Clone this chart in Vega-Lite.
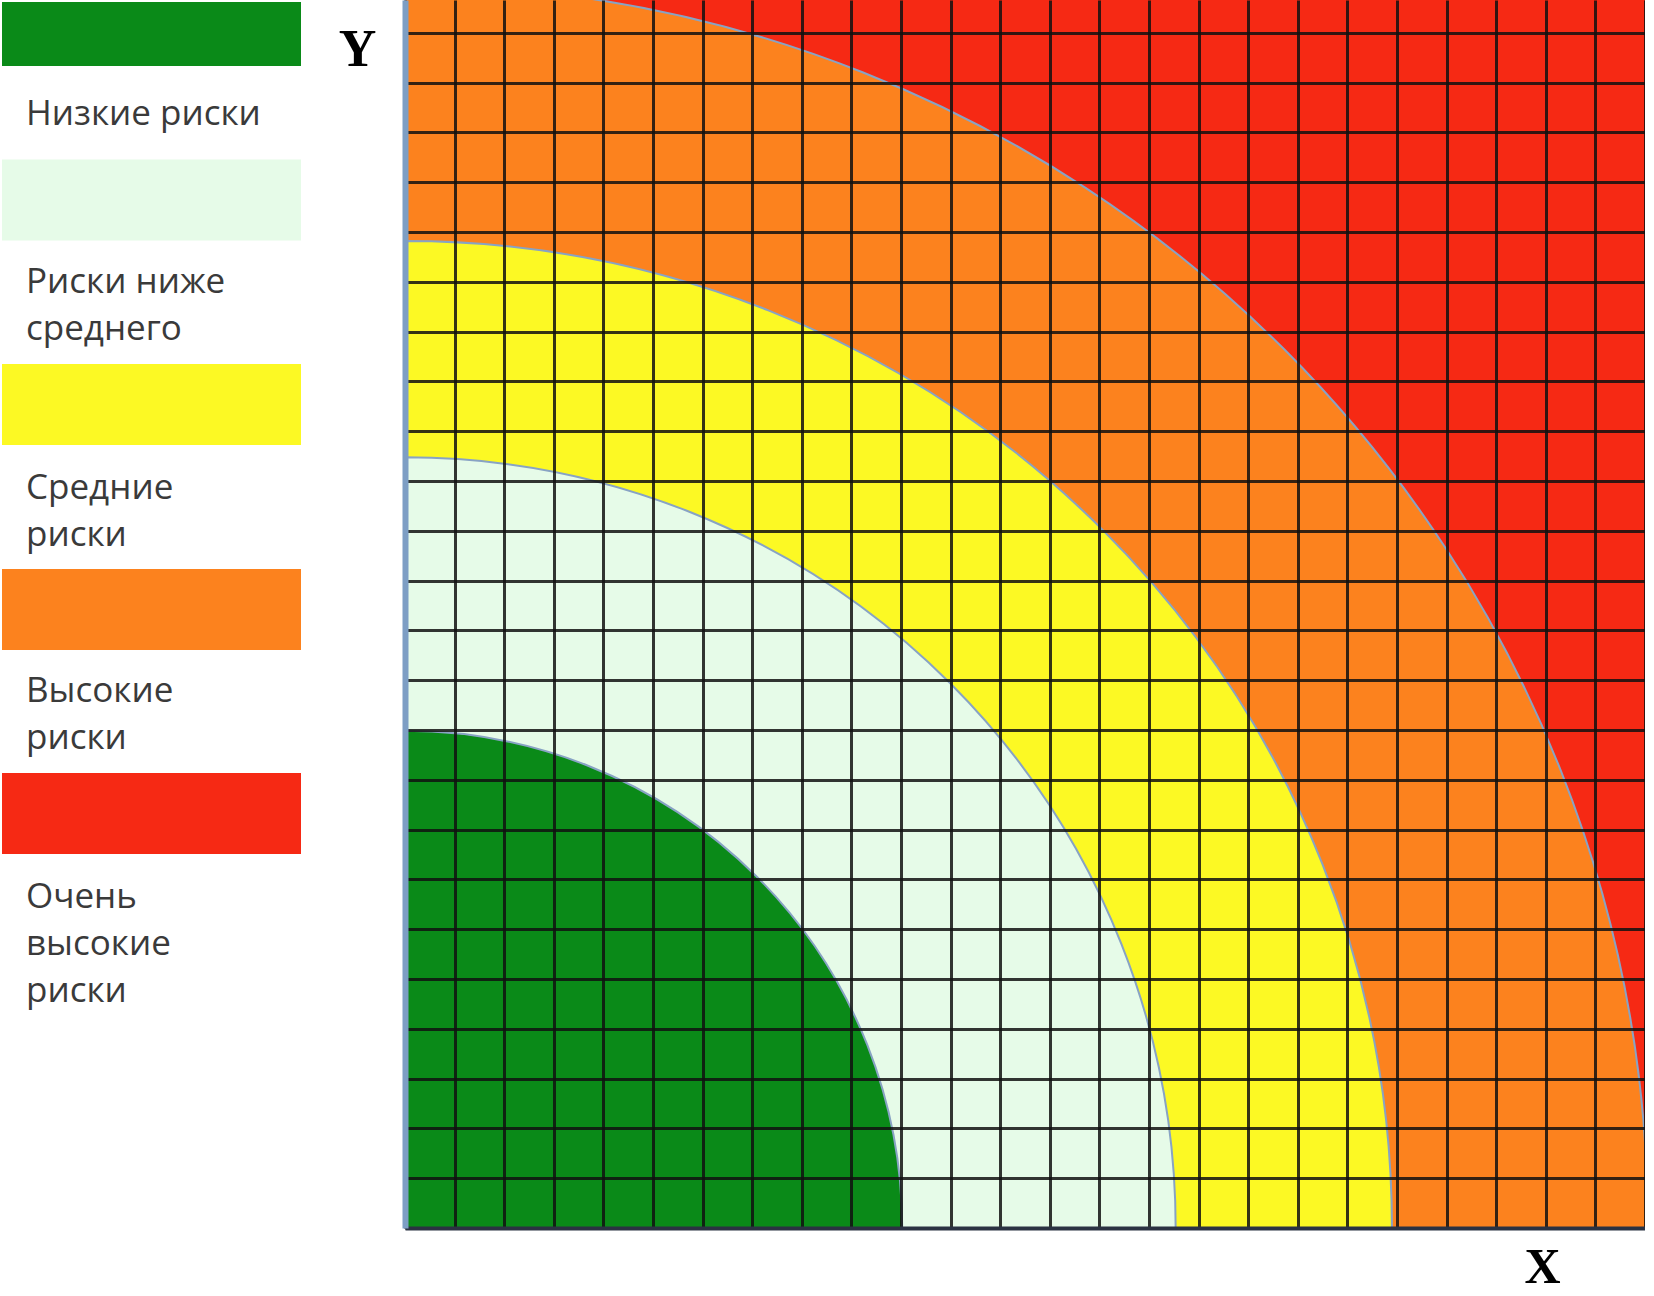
{
  "$schema": "https://vega.github.io/schema/vega-lite/v6.json",
  "padding": {"left": 2, "top": 0, "right": 0, "bottom": 0},
  "bounds": "flush",
  "spacing": 104,
  "config": {"view": {"stroke": null}},
  "datasets": {
    "risks": [
      {"level": "Очень высокие риски", "label": "Очень\nвысокие\nриски", "rank": 5, "r": 36},
      {"level": "Высокие риски", "label": "Высокие\nриски", "rank": 4, "r": 25},
      {"level": "Средние риски", "label": "Средние\nриски", "rank": 3, "r": 19.85},
      {"level": "Риски ниже среднего", "label": "Риски ниже\nсреднего", "rank": 2, "r": 15.5},
      {"level": "Низкие риски", "label": "Низкие риски", "rank": 1, "r": 10}
    ]
  },
  "hconcat": [
    {
      "width": 299,
      "height": 1228,
      "data": {"name": "risks"},
      "layer": [
        {
          "mark": {"type": "point", "filled": true, "opacity": 1, "size": 89401, "strokeWidth": 0},
          "encoding": {
            "y": {"field": "rank", "type": "quantitative", "axis": null,
              "scale": {"domain": [1, 2, 3, 4, 5], "range": [34, 200, 404.5, 609.5, 813.5], "zero": false, "nice": false}},
            "shape": {"field": "level", "type": "nominal", "legend": null,
              "scale": {"domain": ["Низкие риски", "Риски ниже среднего", "Средние риски", "Высокие риски", "Очень высокие риски"],
                "range": ["M-1,-0.214H1V0.214H-1Z", "M-1,-0.2709H1V0.2709H-1Z", "M-1,-0.2709H1V0.2709H-1Z", "M-1,-0.2709H1V0.2709H-1Z", "M-1,-0.2709H1V0.2709H-1Z"]}},
            "color": {"field": "level", "type": "nominal", "legend": null,
              "scale": {"domain": ["Низкие риски", "Риски ниже среднего", "Средние риски", "Высокие риски", "Очень высокие риски"],
                "range": ["#0A8A18", "#E6FBE8", "#FCF924", "#FC821E", "#F62914"]}}
          }
        },
        {
          "mark": {"type": "text", "x": 0, "dx": 24, "align": "left", "baseline": "alphabetic", "lineBreak": "\n", "lineHeight": 47, "font": "Open Sans", "fontSize": 35, "color": "#3a3a3a"},
          "encoding": {
            "y": {"field": "rank", "type": "quantitative", "axis": null,
              "scale": {"domain": [1, 2, 3, 4, 5], "range": [125, 293, 499, 702, 908], "zero": false, "nice": false}},
            "text": {"field": "label", "type": "nominal"}
          }
        }
      ],
      "resolve": {"scale": {"y": "independent"}}
    },
    {
      "width": 1240,
      "height": 1228,
      "data": {"name": "risks"},
      "mark": {"type": "arc", "theta": 0, "theta2": {"expr": "PI/2"}, "clip": true, "stroke": "#88a3c4", "strokeWidth": 2},
      "encoding": {
        "x": {"datum": 0, "type": "quantitative",
          "scale": {"domain": [0, 25], "nice": false, "zero": true},
          "axis": {"values": [0,1,2,3,4,5,6,7,8,9,10,11,12,13,14,15,16,17,18,19,20,21,22,23,24,25],
            "grid": true, "gridColor": "#111111", "gridWidth": 3, "gridOpacity": 0.85,
            "labels": false, "ticks": false, "domain": true, "domainColor": "#2b3242", "domainWidth": 4,
            "title": "X", "titleFont": "Liberation Serif", "titleFontSize": 50, "titleFontWeight": "bold", "titleColor": "#000000",
            "titleX": 1137, "titleY": 54, "titleBaseline": "alphabetic", "titleAlign": "center", "zindex": 1}},
        "y": {"datum": 0, "type": "quantitative",
          "scale": {"domain": [0, 24.66], "nice": false, "zero": true},
          "axis": {"values": [0,1,2,3,4,5,6,7,8,9,10,11,12,13,14,15,16,17,18,19,20,21,22,23,24],
            "grid": true, "gridColor": "#111111", "gridWidth": 3, "gridOpacity": 0.85,
            "labels": false, "ticks": false, "domain": true, "domainColor": "#7d9ec4", "domainWidth": 6,
            "title": "Y", "titleFont": "Liberation Serif", "titleFontSize": 52, "titleFontWeight": "bold", "titleColor": "#000000",
            "titleAngle": 0, "titleX": -48, "titleY": 65, "titleBaseline": "alphabetic", "titleAlign": "center", "zindex": 1}},
        "radius": {"field": "r", "type": "quantitative", "stack": null, "scale": {"type": "linear", "domain": [0, 25], "range": [0, 1243], "zero": true}},
        "color": {"field": "level", "type": "nominal", "legend": null,
          "scale": {"domain": ["Низкие риски", "Риски ниже среднего", "Средние риски", "Высокие риски", "Очень высокие риски"],
            "range": ["#0A8A18", "#E6FBE8", "#FCF924", "#FC821E", "#F62914"]}}
      }
    }
  ]
}
